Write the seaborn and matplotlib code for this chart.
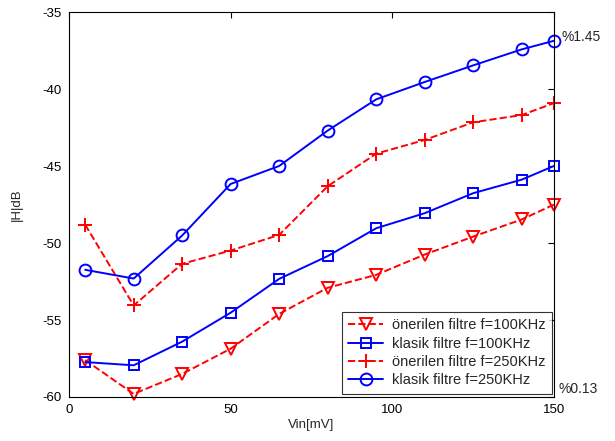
import matplotlib
matplotlib.use("Agg")
import matplotlib.pyplot as plt
import seaborn as sns
import pandas as pd

vin = [5, 20, 35, 50, 65, 80, 95, 110, 125, 140, 150]
oner_100 = [-57.6, -59.8, -58.5, -56.86, -54.6, -52.9, -52.06, -50.74, -49.57, -48.46, -47.49]
klasik_100 = [-57.73, -57.94, -56.4, -54.52, -52.32, -50.84, -49.03, -48.05, -46.75, -45.87, -44.98]
oner_250 = [-48.8, -54.05, -51.34, -50.48, -49.46, -46.3, -44.18, -43.29, -42.14, -41.67, -40.89]
klasik_250 = [-51.73, -52.3, -49.5, -46.15, -44.98, -42.68, -40.65, -39.52, -38.44, -37.4, -36.84]

labels = ["önerilen filtre f=100KHz", "klasik filtre f=100KHz",
          "önerilen filtre f=250KHz", "klasik filtre f=250KHz"]
series = [oner_100, klasik_100, oner_250, klasik_250]
xticks = [0, 50, 100, 150]
yticks = [-60, -55, -50, -45, -40, -35]

sns.set_theme(style="white")
plt.rcParams['font.family'] = ['Liberation Sans', 'DejaVu Sans']
plt.rcParams['axes.unicode_minus'] = False

fig = plt.figure(figsize=(6.15, 4.41), dpi=100)
ax = fig.add_axes([0.1122, 0.0998, 0.7886, 0.8719])

styles = [
    dict(color="#ff0000", ls="--", marker="v", ms=9, mfc="none", mew=1.4),
    dict(color="#0000ff", ls="-", marker="s", ms=7.5, mfc="none", mew=1.4),
    dict(color="#ff0000", ls="--", marker="+", ms=10, mew=1.4),
    dict(color="#0000ff", ls="-", marker="o", ms=8.5, mfc="none", mew=1.4),
]

for lab, vals, st in zip(labels, series, styles):
    df = pd.DataFrame({"x": vin, "y": vals})
    sns.lineplot(data=df, x="x", y="y", ax=ax, label=lab, color=st["color"],
                 linestyle=st["ls"], marker=st["marker"], markersize=st["ms"],
                 markerfacecolor=st.get("mfc", st["color"]),
                 markeredgecolor=st["color"], markeredgewidth=st["mew"],
                 linewidth=1.4, clip_on=False)

fs = 9.5
ax.set_xlim(0, 150)
ax.set_ylim(-60, -35)
ax.set_xticks(xticks)
ax.set_yticks(yticks)
ax.tick_params(direction="in", top=True, right=True, length=4, width=0.8,
               labelsize=fs, colors="black", pad=5)
for s in ax.spines.values():
    s.set_color("black")
    s.set_linewidth(0.8)
ax.set_xlabel("Vin[mV]", fontsize=fs, labelpad=2)
ax.set_ylabel("|H|dB", fontsize=fs, labelpad=14)

leg = ax.legend(loc="lower right", bbox_to_anchor=(0.9959, 0.0078), fontsize=10.5,
                frameon=True, fancybox=False, handlelength=2.4,
                borderpad=0.45, labelspacing=0.3, handletextpad=0.6,
                borderaxespad=0)
leg.get_frame().set_edgecolor("black")
leg.get_frame().set_linewidth(0.8)

ax.text(1.0165, 0.936, "%1.45", transform=ax.transAxes, fontsize=fs + 0.5,
        va="center", ha="left")
ax.text(1.0103, 0.02, "%0.13", transform=ax.transAxes, fontsize=fs + 0.5,
        va="center", ha="left")

fig.savefig("out.png", dpi=100, facecolor="white")
